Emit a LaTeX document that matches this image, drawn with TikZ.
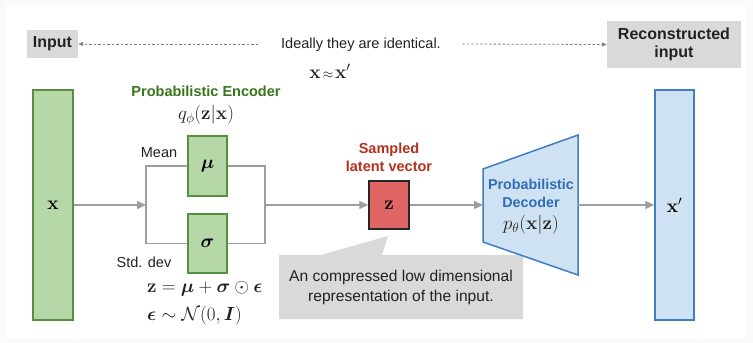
\RequirePackage{fix-cm}
\documentclass[tikz,border=0pt]{standalone}
\usepackage{amsmath,bm}
\usepackage[no-math]{fontspec}
\setmainfont{Liberation Sans}
\usetikzlibrary{arrows.meta}
\definecolor{encfill}{HTML}{B6D7A8}
\definecolor{encdraw}{HTML}{55913F}
\definecolor{enctext}{HTML}{38761D}
\definecolor{decfill}{HTML}{CFE2F3}
\definecolor{decdraw}{HTML}{3D7FC2}
\definecolor{dectext}{HTML}{2F6DB5}
\definecolor{zfill}{HTML}{E06666}
\definecolor{ztext}{HTML}{B3321E}
\definecolor{boxgrey}{HTML}{D9D9D9}
\definecolor{connc}{HTML}{9E9E9E}
\definecolor{txt}{HTML}{222222}
\begin{document}
\begin{tikzpicture}[x=1pt,y=-1pt,
  lbl/.style={font=\fontsize{14.5}{17}\selectfont, text=txt, inner sep=0pt},
  blbl/.style={font=\fontsize{14.5}{17}\selectfont\bfseries, inner sep=0pt},
  mth/.style={font=\fontsize{19}{22}\selectfont, text=txt, inner sep=0pt},
  greybox/.style={fill=boxgrey, draw=none, inner sep=0pt, font=\fontsize{16}{19}\selectfont\bfseries, text=txt, align=center},
  encbox/.style={draw=encdraw, fill=encfill, line width=1.5pt, inner sep=0pt, font=\fontsize{19}{22}\selectfont},
  decbox/.style={draw=decdraw, fill=decfill, line width=1.5pt, inner sep=0pt, font=\fontsize{19}{22}\selectfont},
  conn/.style={draw=connc, line width=1.5pt},
  arr/.style={conn, -{Triangle[length=9pt,width=8pt]}},
  dasharr/.style={draw=gray, line width=0.8pt, dash pattern=on 2.5pt off 2pt, -{Triangle[length=5pt,width=4pt]}}
]
\useasboundingbox (0,0) rectangle (753,343);
\fill[black!2] (0,0) rectangle (753,343);
\fill[white] (5,5) rectangle (745,338);

% top row
\node[greybox, minimum width=51pt, minimum height=28pt] (inbox) at (52.5,44) {Input};
\node[greybox, minimum width=134pt, minimum height=47pt] (recon) at (674,44.5) {Reconstructed\\[-1pt]input};
\node[lbl] (ideal) at (361,45) {Ideally they are identical.};
\node[mth] (approx) at (330,71) {$\mathbf{x}\mkern2mu{\scriptstyle\approx}\mkern2mu\mathbf{x}'$};
\coordinate (dl) at (258,44);
\coordinate (dr) at (462,44);
\draw[dasharr] (dl) -- (inbox.east);
\draw[dasharr] (dr) -- (recon.west);

% input x
\node[encbox, minimum width=40pt, minimum height=230pt] (xin) at (53,205) {$\mathbf{x}$};

% encoder
\node[blbl, text=enctext] (enclbl) at (206,91) {Probabilistic Encoder};
\node[mth] (q) at (206,115) {$q_\phi(\mathbf{z}|\mathbf{x})$};
\node[encbox, minimum width=39pt, minimum height=60pt] (mu) at (207.5,166) {$\bm{\mu}$};
\node[encbox, minimum width=39pt, minimum height=59pt] (sigma) at (207.5,243.5) {$\bm{\sigma}$};
\node[lbl] (mean) at (159,153) {Mean};
\node[lbl] (std) at (144,262) {Std. dev};
\node[mth, anchor=west] (f1) at (147,289) {$\mathbf{z}=\bm{\mu}+\bm{\sigma}\odot\bm{\epsilon}$};
\node[mth, anchor=west] (f2) at (147,316) {$\bm{\epsilon}\sim\mathcal{N}(0,\bm{I})$};

\coordinate (sl) at (146,205);
\coordinate (slt) at (146,166);
\coordinate (slb) at (146,243.5);
\coordinate (srt) at (265,166);
\coordinate (srb) at (265,243.5);
\coordinate (sr) at (265,205);
\draw[arr] (xin.east |- sl) -- (sl);
\draw[conn] (mu.west) -- (slt) -- (slb) -- (sigma.west);
\draw[conn] (mu.east) -- (srt) -- (srb) -- (sigma.east);

% callout
\fill[boxgrey] (279,255) -- (321,255) -- (388,236) -- (382,255) -- (523,255) -- (523,319) -- (279,319) -- cycle;
\node[lbl, align=center, font=\fontsize{15.6}{20}\selectfont] (call) at (401,287) {An compressed low dimensional\\representation of the input.};

% latent z
\node[draw=black!85, fill=zfill, line width=1.5pt, minimum width=40pt, minimum height=48pt, inner sep=0pt, font=\fontsize{19}{22}\selectfont] (z) at (389,205) {$\mathbf{z}$};
\node[blbl, text=ztext, align=center, font=\fontsize{14.5}{18}\selectfont\bfseries] (zlbl) at (389,157) {Sampled\\latent vector};
\draw[arr] (sr) -- (z.west);

% decoder
\coordinate (decL) at (483,205);
\coordinate (decR) at (578,205);
\draw[draw=decdraw, fill=decfill, line width=1.5pt] (483,169) -- (578,135) -- (578,275) -- (483,242) -- cycle;
\node[blbl, text=dectext, align=center, font=\fontsize{14.3}{17.5}\selectfont\bfseries] (dec) at (531,193.5) {Probabilistic\\Decoder};
\node[mth] (p) at (531,225) {$p_\theta(\mathbf{x}|\mathbf{z})$};
\draw[arr] (z.east) -- (decL);

% output x'
\node[decbox, minimum width=39pt, minimum height=230pt] (xout) at (674.5,205) {$\mathbf{x}'$};
\draw[arr] (decR) -- (xout.west);
\end{tikzpicture}
\end{document}
